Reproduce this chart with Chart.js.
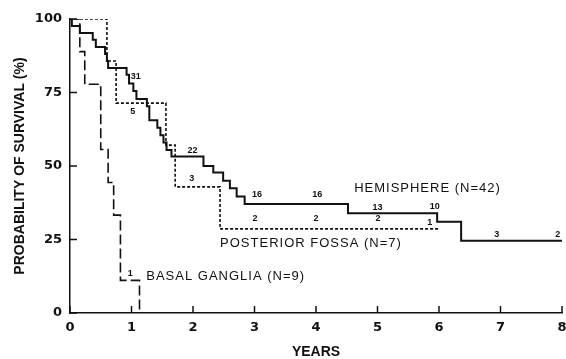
<!DOCTYPE html>
<html>
<head>
<meta charset="utf-8">
<script src="https://cdn.jsdelivr.net/npm/chart.js@4.4.1/dist/chart.umd.min.js"></script>
<style>
  html, body { margin: 0; padding: 0; background: #fff; }
  #wrap { width: 566px; height: 359px; }
</style>
</head>
<body>
<div id="wrap"><canvas id="km" width="566" height="359"></canvas></div>
<script>
// survival (years, % surviving after the step)
var hemiYears = [0, 0.03, 0.16, 0.37, 0.42, 0.57, 0.6, 0.62, 0.92, 0.96, 1.03, 1.08, 1.25, 1.29, 1.42, 1.47, 1.52, 1.57, 1.65, 2.17, 2.33, 2.49, 2.6, 2.71, 2.84, 4.52, 5.97, 6.36, 8.0];
var hemiSurv  = [100, 97.6, 95.2, 92.9, 90.5, 88.1, 85.7, 83.3, 81.0, 78.1, 75.5, 72.8, 70.3, 65.6, 63.0, 60.5, 58.0, 55.4, 53.2, 50.0, 47.8, 45.0, 42.4, 39.6, 37.1, 33.9, 31.0, 24.6, 24.6];

var fossaYears = [0, 0.6, 0.75, 1.56, 1.71, 2.44, 6.0];
var fossaSurv  = [100, 85.7, 71.4, 57.1, 42.9, 28.6, 28.6];

var basalYears = [0, 0.16, 0.24, 0.5, 0.62, 0.71, 0.82, 1.13];
var basalSurv  = [100, 88.9, 77.8, 55.6, 44.4, 33.3, 11.1, 0];

// numbers at risk printed along the curves
var hemiAtRisk  = ['31', '22', '16', '16', '13', '10', '3', '2'];
var fossaAtRisk = ['5', '3', '2', '2', '2', '1'];
var basalAtRisk = ['1'];

var yearTicks = [0, 1, 2, 3, 4, 5, 6, 7, 8];
var survTicks = [0, 25, 50, 75, 100];

function pts(xs, ys) {
    return xs.map(function (t, i) { return { x: t, y: ys[i] }; });
}

var ink = '#111';
var tickFont = { family: '"DejaVu Sans", sans-serif', size: 13, weight: 'bold' };
var titleFont = { family: '"Liberation Sans", Arial, sans-serif', size: 14, weight: 'bold', lineHeight: 1 };

var insideTicks = {
    id: 'insideTicks',
    afterDraw: function (chart) {
        var ctx = chart.ctx, x = chart.scales.x, y = chart.scales.y;
        ctx.save();
        ctx.strokeStyle = ink;
        ctx.lineWidth = 1.5;
        yearTicks.forEach(function (v) {
            var px = x.getPixelForValue(v);
            ctx.beginPath(); ctx.moveTo(px, x.top); ctx.lineTo(px, x.top - 7); ctx.stroke();
        });
        survTicks.forEach(function (v) {
            var py = y.getPixelForValue(v);
            ctx.beginPath(); ctx.moveTo(y.right, py); ctx.lineTo(y.right + 7, py); ctx.stroke();
        });
        ctx.restore();
    }
};

var notes = {
    id: 'notes',
    afterDatasetsDraw: function (chart) {
        var ctx = chart.ctx, x = chart.scales.x, y = chart.scales.y;
        function put(text, t, s, font, spacing) {
            ctx.font = font;
            ctx.letterSpacing = spacing || '0px';
            ctx.fillText(text, x.getPixelForValue(t), y.getPixelForValue(s));
        }
        ctx.save();
        ctx.fillStyle = ink;
        ctx.textAlign = 'center';
        ctx.textBaseline = 'middle';
        var small = 'bold 9px "Liberation Sans", Arial, sans-serif';
        var hemiPos  = [[1.07, 80.3], [1.99, 55.3], [3.04, 40.3], [4.02, 40.3], [5.0, 35.8], [5.93, 36.1], [6.94, 26.6], [7.93, 26.6]];
        var fossaPos = [[1.02, 68.4], [1.98, 45.8], [3.01, 32.3], [4.0, 32.3], [5.01, 32.3], [5.85, 30.9]];
        hemiAtRisk.forEach(function (n, i) { put(n, hemiPos[i][0], hemiPos[i][1], small); });
        fossaAtRisk.forEach(function (n, i) { put(n, fossaPos[i][0], fossaPos[i][1], small); });
        put(basalAtRisk[0], 0.98, 13.5, small);

        var big = '13px "Liberation Sans", Arial, sans-serif';
        ctx.textAlign = 'left';
        put('HEMISPHERE (N=42)', 4.62, 42.5, big, '1px');
        put('POSTERIOR FOSSA (N=7)', 2.44, 23.8, big, '1px');
        put('BASAL GANGLIA (N=9)', 1.24, 12.3, big, '1px');
        ctx.restore();
    }
};

new Chart(document.getElementById('km'), {
    type: 'line',
    data: {
        datasets: [{
            label: 'Hemisphere',
            data: pts(hemiYears, hemiSurv),
            stepped: 'before',
            borderColor: ink,
            borderWidth: 2,
            pointRadius: 0
        }, {
            label: 'Posterior fossa',
            data: pts(fossaYears, fossaSurv),
            stepped: 'before',
            borderColor: ink,
            borderWidth: 1.6,
            borderDash: [3, 2],
            pointRadius: 0
        }, {
            label: 'Basal ganglia',
            data: pts(basalYears, basalSurv),
            stepped: 'before',
            borderColor: ink,
            borderWidth: 1.6,
            borderDash: [10, 4],
            pointRadius: 0
        }]
    },
    options: {
        responsive: false,
        animation: false,
        layout: { padding: { top: 19, right: 4, left: 0, bottom: 0 } },
        plugins: {
            legend: { display: false },
            tooltip: { enabled: false }
        },
        scales: {
            x: {
                type: 'linear',
                min: 0,
                max: 8,
                afterFit: function (scale) {
                    scale.height = 46;
                    scale.paddingLeft = 0;
                    scale.paddingRight = 0;
                },
                grid: { display: false, drawTicks: false },
                border: { display: true, color: ink, width: 1.5 },
                ticks: { stepSize: 1, padding: 7, color: ink, font: tickFont, maxRotation: 0 },
                title: {
                    display: true,
                    text: 'YEARS',
                    color: ink,
                    padding: 0,
                    font: titleFont
                }
            },
            y: {
                min: 0,
                max: 100,
                afterFit: function (scale) {
                    scale.width = 70;
                    scale.paddingTop = 0;
                    scale.paddingBottom = 0;
                },
                grid: { display: false, drawTicks: false },
                border: { display: true, color: ink, width: 1.5 },
                ticks: { stepSize: 25, padding: 8, color: ink, font: tickFont },
                title: {
                    display: true,
                    text: 'PROBABILITY OF SURVIVAL (%)',
                    color: ink,
                    padding: { top: 13, bottom: 0 },
                    font: titleFont
                }
            }
        }
    },
    plugins: [insideTicks, notes]
});
</script>
</body>
</html>
